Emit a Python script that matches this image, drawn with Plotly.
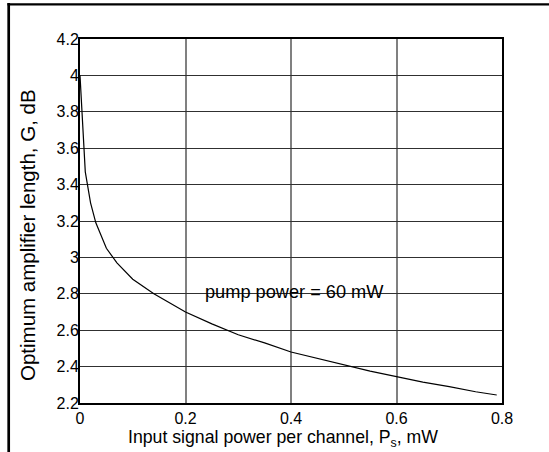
import plotly.graph_objects as go

# Optimum amplifier length vs. input signal power (pump power fixed at 60 mW)
signal_power_mw = [0, 0.01, 0.02, 0.03, 0.05, 0.07, 0.10, 0.14, 0.20, 0.25, 0.30,
                   0.35, 0.40, 0.45, 0.50, 0.55, 0.60, 0.65, 0.70, 0.75, 0.79]
optimum_gain_db = [4.00, 3.47, 3.30, 3.19, 3.05, 2.97, 2.88, 2.80, 2.70, 2.635, 2.575,
                   2.53, 2.48, 2.445, 2.41, 2.375, 2.345, 2.315, 2.29, 2.262, 2.244]

x_ticks = [0, 0.2, 0.4, 0.6, 0.8]
x_tick_labels = ["0", "0.2", "0.4", "0.6", "0.8"]
y_ticks = [2.2, 2.4, 2.6, 2.8, 3.0, 3.2, 3.4, 3.6, 3.8, 4.0, 4.2]
y_tick_labels = ["2.2", "2.4", "2.6", "2.8", "3", "3.2", "3.4", "3.6", "3.8", "4", "4.2"]

FONT = "Liberation Sans, Arial, Helvetica, sans-serif"

fig = go.Figure()
fig.add_trace(go.Scatter(
    x=signal_power_mw, y=optimum_gain_db, mode="lines",
    line=dict(color="black", width=1.2), showlegend=False,
))

W, H = 549, 452
L, R, T, B = 80, 47, 39, 49
pw, ph = W - L - R, H - T - B

def px_to_paper_x(px):
    return (px - L) / pw

def px_to_paper_y(py):
    return 1 - (py - T) / ph

fig.update_layout(
    width=W, height=H,
    margin=dict(l=L, r=R, t=T, b=B, pad=0),
    paper_bgcolor="white", plot_bgcolor="white",
    font=dict(family=FONT, size=16, color="black"),
    xaxis=dict(
        range=[0, 0.8], tickvals=x_ticks, ticktext=x_tick_labels,
        showgrid=True, gridcolor="#808080", gridwidth=1.5,
        showline=True, linecolor="black", linewidth=2, mirror=True,
        ticks="", zeroline=False, tickfont=dict(size=16),
        ticklabelstandoff=0,
    ),
    yaxis=dict(
        range=[2.2, 4.2], tickvals=y_ticks, ticktext=y_tick_labels,
        showgrid=True, gridcolor="#303030", gridwidth=1.2,
        showline=True, linecolor="black", linewidth=2, mirror=True,
        ticks="", zeroline=False, tickfont=dict(size=16),
        ticklabelstandoff=-4,
    ),
    annotations=[
        dict(text="pump power = 60 mW", x=0.406, y=2.81, xref="x", yref="y",
             xanchor="center", yanchor="middle",
             showarrow=False, font=dict(size=18.2)),
        dict(text="Input signal power per channel, P<sub>s</sub>, mW",
             x=px_to_paper_x(283), y=px_to_paper_y(438), xref="paper", yref="paper",
             xanchor="center", yanchor="middle",
             showarrow=False, font=dict(size=17.7)),
        dict(text="Optimum amplifier length, G, dB", textangle=-90,
             x=px_to_paper_x(27), y=px_to_paper_y(235), xref="paper", yref="paper",
             xanchor="center", yanchor="middle",
             showarrow=False, font=dict(size=20.5)),
    ],
    shapes=[
        # outer frame: left and top edges
        dict(type="line", xref="paper", yref="paper", line=dict(color="black", width=2.7),
             x0=px_to_paper_x(8.7), x1=px_to_paper_x(8.7),
             y0=px_to_paper_y(3), y1=px_to_paper_y(470)),
        dict(type="line", xref="paper", yref="paper", line=dict(color="black", width=2.2),
             x0=px_to_paper_x(7.4), x1=px_to_paper_x(560),
             y0=px_to_paper_y(4.3), y1=px_to_paper_y(4.3)),
    ],
)

fig.write_html("out.html")
